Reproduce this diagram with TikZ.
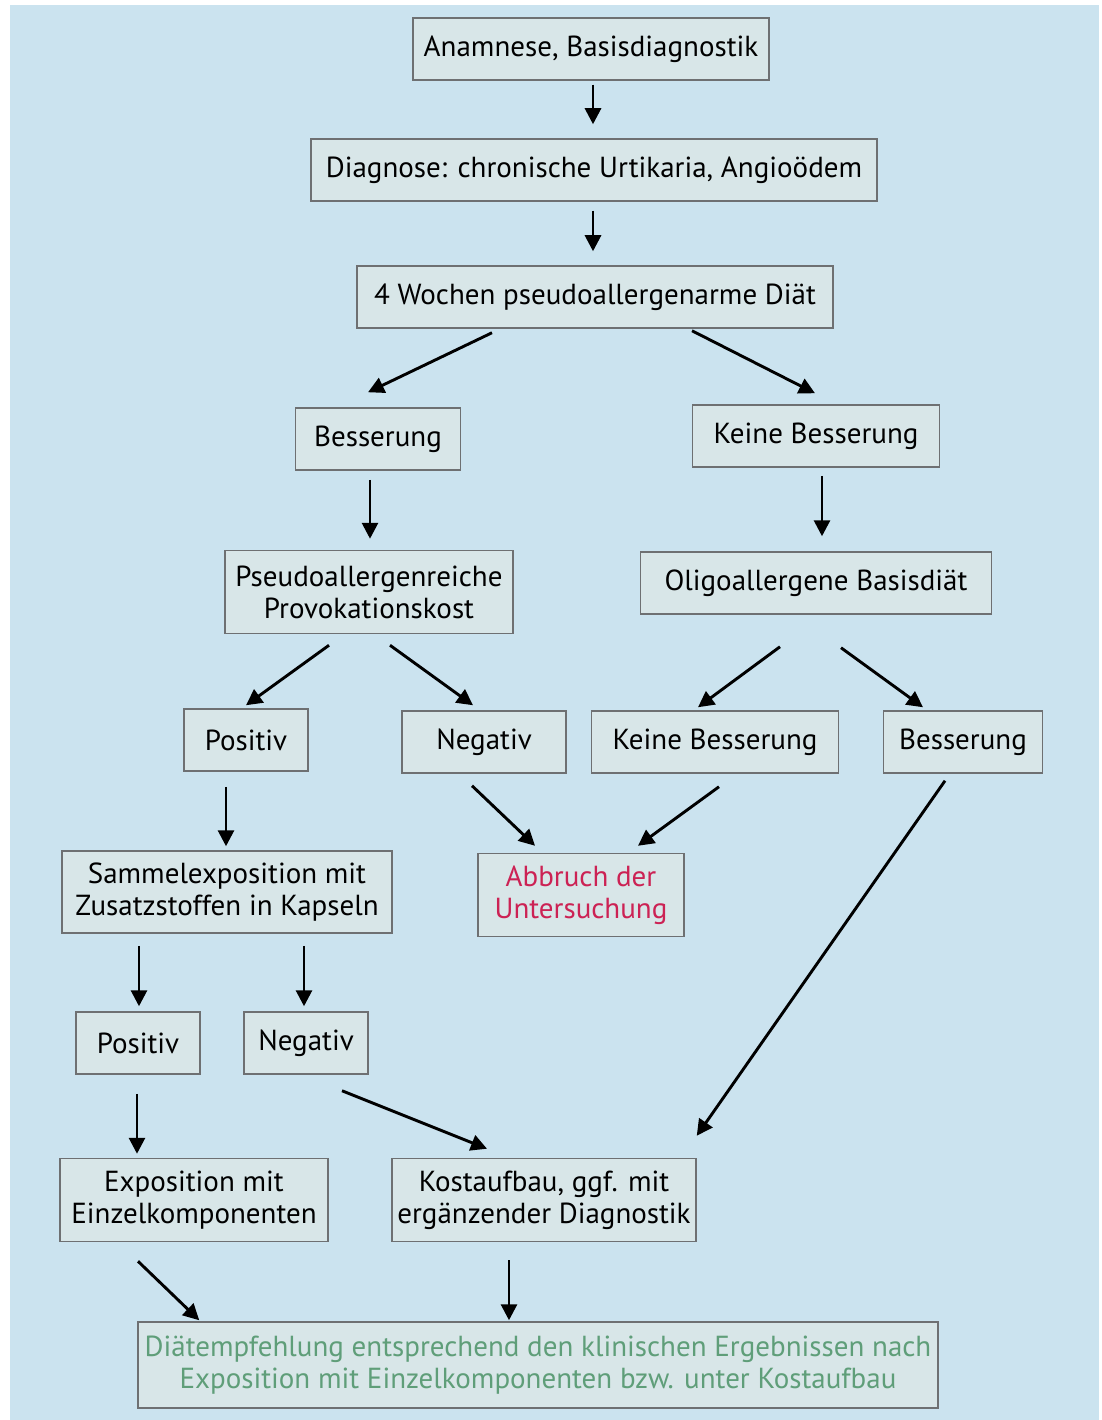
\documentclass[tikz,border=0pt]{standalone}
\usepackage{fontspec}
\setmainfont{PT Sans}
\usepackage{tikz}
\usetikzlibrary{arrows.meta,positioning,calc}
\definecolor{bgblue}{RGB}{203,227,239}
\definecolor{boxfill}{RGB}{216,230,232}
\definecolor{boxline}{RGB}{110,112,114}
\definecolor{stopred}{RGB}{204,34,84}
\definecolor{resgreen}{RGB}{95,158,121}
\begin{document}
\begin{tikzpicture}[x=1pt,y=-1pt,font=\fontsize{29}{32}\selectfont,
  box/.style={draw=boxline,line width=1.5pt,fill=boxfill,inner sep=0pt,align=center,minimum height=62pt},
  arr/.style={-{Triangle[length=16pt,width=16pt]},line width=2.9pt,black}]
 % background
 \useasboundingbox (0,0) rectangle (1101,1420);
 \fill[bgblue] (10,5) rectangle (1099,1420);
 % boxes
 \node[box,minimum width=356pt] (anam) at (591,49) {Anamnese, Basisdiagnostik};
 \node[box,minimum width=566pt] (diag) at (594,170) {Diagnose: chronische Urtikaria, Angioödem};
 \node[box,minimum width=476pt] (woche) at (595,297) {4 Wochen pseudoallergenarme Diät};
 \node[box,minimum width=165pt] (bessL) at (378,439) {Besserung};
 \node[box,minimum width=247pt] (keineR) at (816,436) {Keine Besserung};
 \node[box,minimum width=288pt,minimum height=83pt] (provo) at (369,592) {Pseudoallergenreiche\\Provokationskost};
 \node[box,minimum width=351pt] (oligo) at (816,583) {Oligoallergene Basisdiät};
 \node[box,minimum width=124pt] (posA) at (246,740) {Positiv};
 \node[box,minimum width=164pt] (negA) at (484,742) {Negativ};
 \node[box,minimum width=247pt] (keineB) at (715,742) {Keine Besserung};
 \node[box,minimum width=159pt] (bessB) at (963,742) {Besserung};
 \node[box,minimum width=206pt,minimum height=83pt,text=stopred] (abbr) at (581,895) {Abbruch der\\Untersuchung};
 \node[box,minimum width=330pt,minimum height=82pt] (sammel) at (227,892) {Sammelexposition mit\\Zusatzstoffen in Kapseln};
 \node[box,minimum width=124pt] (posB) at (138,1043) {Positiv};
 \node[box,minimum width=124pt] (negB) at (306,1043) {Negativ};
 \node[box,minimum width=268pt,minimum height=83pt] (expo) at (194,1200) {Exposition mit\\Einzelkomponenten};
 \node[box,minimum width=304pt,minimum height=83pt] (kost) at (544,1200) {Kostaufbau, ggf. mit\\ergänzender Diagnostik};
 \node[box,minimum width=800pt,minimum height=86pt,text=resgreen] (empf) at (538,1365) {Diätempfehlung entsprechend den klinischen Ergebnissen nach\\Exposition mit Einzelkomponenten bzw. unter Kostaufbau};
 % arrows
 \draw[arr] ($(anam.south)+(2,4)$) -- ($(diag.north)+(-1,-14)$);
 \draw[arr] ($(diag.south)+(-1,9)$) -- ($(woche.north)+(-2,-14)$);
 \draw[arr] ($(woche.south)+(-103,4)$) -- ($(bessL.north)+(-10,-15)$);
 \draw[arr] ($(woche.south)+(97,2)$) -- ($(keineR.north)+(-1,-11)$);
 \draw[arr] ($(bessL.south)+(-8,9)$) -- ($(provo.north)+(1,-11)$);
 \draw[arr] ($(keineR.south)+(6,8)$) -- ($(oligo.north)+(6,-15)$);
 \draw[arr] ($(provo.south)+(-40,11)$) -- ($(posA.north)+(0,-3)$);
 \draw[arr] ($(provo.south)+(21,11)$) -- ($(negA.north)+(-11,-5)$);
 \draw[arr] ($(oligo.south)+(-36,32)$) -- ($(keineB.north)+(-17,-3)$);
 \draw[arr] ($(oligo.south)+(25,33)$) -- ($(bessB.north)+(-40,-3)$);
 \draw[arr] ($(posA.south)+(-20,15)$) -- ($(sammel.north)+(-1,-4)$);
 \draw[arr] ($(negA.south)+(-12,12)$) -- ($(abbr.north)+(-46,-7)$);
 \draw[arr] ($(keineB.south)+(4,13)$) -- ($(abbr.north)+(57,-7)$);
 \draw[arr] ($(bessB.south)+(-18,7)$) -- ($(kost.north east)+(0,-22)$);
 \draw[arr] ($(sammel.south)+(-88,12)$) -- ($(posB.north)+(1,-5)$);
 \draw[arr] ($(sammel.south)+(77,12)$) -- ($(negB.north)+(-2,-5)$);
 \draw[arr] ($(posB.south)+(-1,19)$) -- ($(expo.north)+(-57,-4)$);
 \draw[arr] ($(negB.south)+(36,16)$) -- ($(kost.north)+(-57,-9)$);
 \draw[arr] ($(expo.south)+(-56,19)$) -- ($(empf.north west)+(62,-1)$);
 \draw[arr] ($(kost.south)+(-35,18)$) -- ($(empf.north)+(-29,-1)$);
\end{tikzpicture}
\end{document}
